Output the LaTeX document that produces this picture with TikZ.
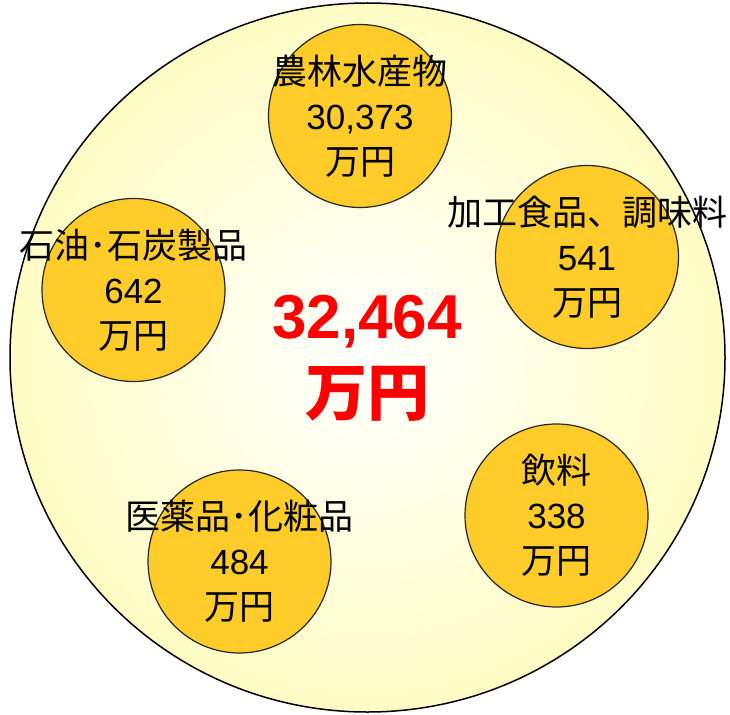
\documentclass[tikz,border=0pt]{standalone}
\usepackage{fontspec}
\setmainfont{Liberation Sans}
\newfontfamily\jpfont{Noto Sans CJK JP}
\usepackage{tikz}
\usetikzlibrary{positioning}
\definecolor{outercolor}{RGB}{255,253,196}
\definecolor{itemcolor}{RGB}{255,204,41}
\definecolor{totalcolor}{RGB}{255,0,0}

\tikzset{
    itemcircle/.style={circle, draw=black!85, line width=1.2pt, fill=itemcolor, minimum size=183pt, inner sep=0pt},
    itemtext/.style={align=center, inner sep=0pt, font=\fontsize{35}{45}\selectfont},
}

\begin{document}
\begin{tikzpicture}[x=1pt, y=-1pt]
    \useasboundingbox (0,0) rectangle (730,714);
    % outer total circle
    \draw[line width=1.5pt, shading=radial, inner color=white, outer color=outercolor]
        (367.5,357.5) ellipse [x radius=357.5pt, y radius=354.5pt];

    % the five items
    \node[itemcircle] (nourin) at (360,116) {};
    \node[itemcircle] (sekiyu) at (133.5,290) {};
    \node[itemcircle] (kakou) at (587,257) {};
    \node[itemcircle] (iyaku) at (239.5,561.5) {};
    \node[itemcircle] (inryou) at (556.5,515.5) {};

    \node[itemtext] (nourintext) at (nourin) {{\jpfont 農林水産物}\\30,373\\{\jpfont 万円}};
    \node[itemtext] (sekiyutext) at (sekiyu) {{\jpfont 石油･石炭製品}\\642\\{\jpfont 万円}};
    \node[itemtext] (kakoutext) at (kakou) {{\jpfont 加工食品、調味料}\\541\\{\jpfont 万円}};
    \node[itemtext] (iyakutext) at (iyaku) {{\jpfont 医薬品･化粧品}\\484\\{\jpfont 万円}};
    \node[itemtext] (inryoutext) at (inryou) {{\jpfont 飲料}\\338\\{\jpfont 万円}};

    % total
    \node[align=center, inner sep=0pt, text=totalcolor, font=\fontsize{62}{77}\selectfont\bfseries] (total) at (367,358) {32,464\\{\jpfont 万円}};
\end{tikzpicture}
\end{document}
